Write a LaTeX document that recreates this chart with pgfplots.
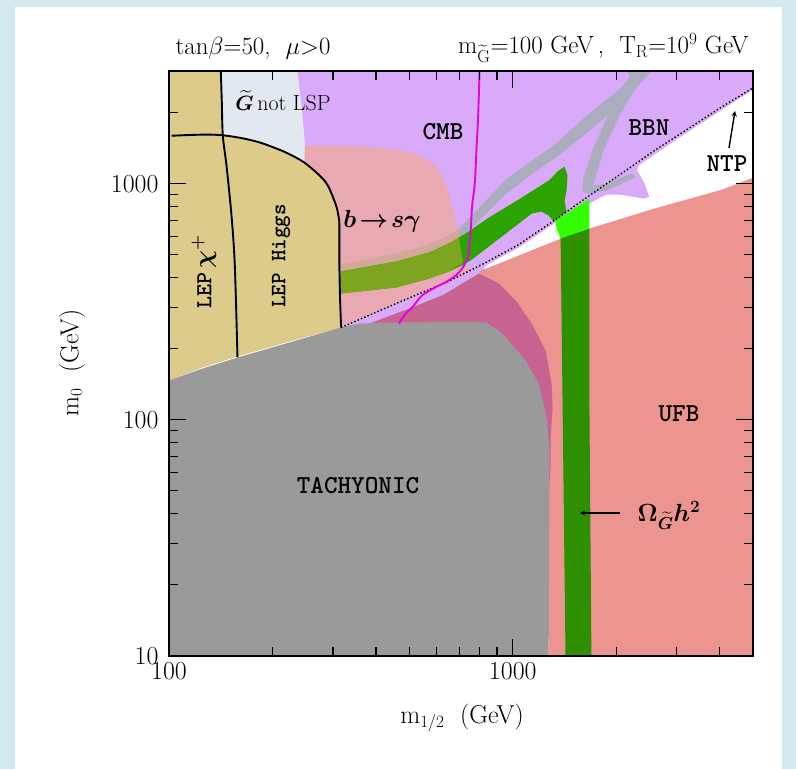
\documentclass[border=0pt]{standalone}
\usepackage{amsmath}
\usepackage{fontspec}
\usepackage{pgfplots}
\pgfplotsset{compat=1.18}
\definecolor{bgblue}{RGB}{210,234,239}
\definecolor{lav}{RGB}{217,170,250}
\definecolor{glsp}{RGB}{226,232,240}
\definecolor{bsg}{RGB}{232,169,179}
\definecolor{tanc}{RGB}{220,203,138}
\definecolor{gband}{RGB}{172,172,191}
\definecolor{beige}{RGB}{212,168,150}
\definecolor{gdark}{RGB}{44,163,0}
\definecolor{olive}{RGB}{126,165,32}
\definecolor{lime}{RGB}{51,255,0}
\definecolor{gcol}{RGB}{46,143,0}
\definecolor{salmon}{RGB}{236,149,144}
\definecolor{dpink}{RGB}{200,98,145}
\definecolor{tach}{RGB}{154,154,154}
\definecolor{mag}{RGB}{230,0,230}
\newcommand{\bsg}{{\boldmath$b\!\rightarrow\! s\gamma$}}
\newcommand{\omg}{{\boldmath$\Omega_{\widetilde{G}}h^2$}}
\newcommand{\gt}{{\boldmath$\widetilde{G}$}}
\newcommand{\chip}{{\boldmath$\chi^+$}}
\begin{document}
\begin{tikzpicture}
\fill[bgblue] (0,0) rectangle (796bp,769bp);
\fill[white] (15bp,0) rectangle (782bp,761.5bp);
\begin{axis}[at={(169bp,113bp)}, anchor=south west, scale only axis,
  width=584bp, height=585bp,
  xmode=log, ymode=log, xmin=100, xmax=5000, ymin=10, ymax=3000,
  xtick={100,1000}, xticklabels={100,1000},
  ytick={10,100,1000}, yticklabels={10,100,1000},
  minor xtick={200,300,400,500,600,700,800,900,2000,3000,4000},
  minor ytick={20,30,40,50,60,70,80,90,200,300,400,500,600,700,800,900,2000},
  tick align=inside, major tick length=17bp, minor tick length=9bp,
  tick style={black, line width=1.1bp},
  axis line style={line width=1.3bp},
  tick label style={font=\fontsize{26}{30}\selectfont},
  /pgf/number format/assume math mode=true,
  xticklabel style={yshift=-3bp}, yticklabel style={xshift=-7bp},
  axis on top]
% CMB / BBN lavender
\addplot[fill=lav, draw=none] coordinates {(224.3,3000)(5000,3000)(5000,2497)(4061,2055)(3237,1659)(2580,1326)(2318,1191)(2303,1135)(2413,1010)(2495,881.1)(2413,864.2)(2056,898.4)(1873,898.4)(1751,855.8)(1671,823.2)(1359,697.7)(1041,536.6)(835.1,450.2)(797,389)(467.3,239)(224.3,239)} -- cycle;
% G not LSP
\addplot[fill=glsp, draw=none] coordinates {(141.5,3000)(236.6,3000)(244.6,1939)(249.5,1379)(249.5,1135)(141.5,1135)} -- cycle;
% b -> s gamma
\addplot[fill=bsg, draw=none] coordinates {(247.9,1448)(328,1448)(446,1406)(509.6,1352)(559.4,1276)(598.1,1180)(622.5,1081)(643.8,952.5)(665.6,807.3)(697.4,620.9)(721,481.9)(745.5,428.8)(639.4,381.5)(458,310.9)(315.2,246.1)(247.9,246.1)} -- cycle;
% UFB
\addplot[fill=salmon, draw=none] coordinates {(797,424.6)(1041,496.2)(1359,580.0)(1671,645.5)(2580,784.1)(4061,943.2)(5000,1060)(5000,10)(1272,10)(1272,74.3)(910.7,320.2)} -- cycle;
% dark pink
\addplot[fill=dpink, draw=none] coordinates {(390.2,258.4)(509.6,299.1)(631,339.4)(797,416.4)(910.7,377.8)(1020,320.2)(1135,255.9)(1246,196.7)(1297,142.7)(1306,112.9)(1289,84.3)(1289,63.6)(1272,48.0)(1189,48.0)(408.9,120.9)(390.2,239.0)} -- cycle;
% grey band (long branch)
\addplot[fill=gband, draw=none] coordinates {(315.2,454.6)(458,505)(570.8,552)(652.4,603)(697.4,645)(760.6,735)(954.4,1040)(1189,1310)(1315,1450)(1638,1940)(2056,2520)(2260,3000)(2530,3000)(2112,2230)(1660,1660)(1332,1285)(1189,1150)(954.4,905)(760.6,650)(697.4,585.7)(652.4,557.9)(570.8,510.9)(458,468)(315.2,424.6)} -- cycle;
% grey band (right branch)
\addplot[fill=gband, draw=none] coordinates {(2169,3000)(2479,3000)(2350,2752)(2056,1977)(1835,1379)(1740,1060)(1705,980.7)(1873,1000)(2198,1102)(2273,1081)(2242,1050)(1873,934.1)(1660,907.2)(1595,925.0)(1606,1060)(1717,1420)(1923,2055)(2198,2752)} -- cycle;
% grey band over pink
\addplot[fill=beige, draw=none] coordinates {(315.2,454.6)(458,505)(570.8,552)(652.4,603)(697.4,645)(702,569)(652.4,557.9)(570.8,510.9)(458,468)(315.2,424.6)} -- cycle;
% green band
\addplot[fill=gdark, draw=none] coordinates {(315.2,424.6)(458,468)(570.8,510.9)(652.4,557.9)(721,608.9)(852,718.4)(1062,872.6)(1272,1030)(1359,1135)(1415,1180)(1443,1081)(1434,934.1)(1415,847.6)(1434,761.6)(1341,704.5)(1315,691.0)(1272,732.5)(1214,761.6)(1135,746.9)(954.4,614.9)(760.6,477.2)(721,454.6)(652.4,424.6)(570.8,396.7)(458,363.4)(315.2,342.7)} -- cycle;
% green band over pink
\addplot[fill=olive, draw=none] coordinates {(315.2,424.6)(458,468)(570.8,510.9)(652.4,557.9)(697.4,591.4)(716.2,463.5)(652.4,424.6)(570.8,396.7)(458,363.4)(315.2,342.7)} -- cycle;
% green column
\addplot[fill=gcol, draw=none] coordinates {(1378,591.4)(1671,645.5)(1671,120.9)(1694,10)(1424,10)(1396,120.9)} -- cycle;
\addplot[fill=lime, draw=none] coordinates {(1332,697.7)(1671,864.2)(1671,645.5)(1378,585.7)(1341,645.5)} -- cycle;
% LEP
\addplot[fill=tanc, draw=none] coordinates {(100,3000)(141.5,3000)(142.4,1612)(183.5,1491)(228.8,1313)(268.6,1113)(292.9,952.5)(306.3,807.3)(313.1,664.6)(313.1,450.2)(314.5,326.5)(317.3,246.1)(224.3,214.7)(158.5,185.6)(123,165.1)(100,146.9)} -- cycle;
% tachyonic
\addplot[fill=tach, draw=none] coordinates {(100,10)(100,146.9)(123,163.5)(158.5,183.8)(224.3,212.7)(316.7,246.1)(357.8,255.9)(467.3,258.4)(745.5,259.7)(835.1,258.4)(910.7,239.0)(954.4,223.3)(1091,178.5)(1189,142.7)(1255,102.5)(1280,74.3)(1276,28.1)(1272,10)} -- cycle;
% LEP chargino line
\addplot[black, line width=1.9bp, smooth] coordinates {(141.5,3000)(142.4,2244)(143.4,1596)(147.0,1191)(152.0,732.5)(155.4,450.2)(158.2,183.8)};
% LEP Higgs line
\addplot[black, line width=1.9bp, smooth] coordinates {(101.8,1596)(123,1612)(140.6,1607)(160.6,1565)(183.5,1495)(209.7,1392)(228.8,1313)(247.9,1227)(268.1,1116)(283.3,1030)(292.9,952.5)(306.3,807.3)(311.0,732.5)(313.1,664.6)(313.1,450.2)(314.5,326.5)(316.7,246.1)};
% NTP dotted line
\addplot[black, line width=1.4bp, dash pattern=on 1.4bp off 2.2bp] coordinates {(316.7,246.1)(458,310.9)(639.4,381.5)(835.1,463.5)(1041,552.5)(1332,704.5)(1638,872.6)(2029,1081)(2580,1379)(3237,1708)(4061,2117)(5000,2546)};
% magenta line
\addplot[mag, line width=1.9bp, smooth] coordinates {(800.7,3000)(793.3,1939)(784.8,1420)(776.0,1013)(762.1,807.3)(754.0,622.7)(742.0,496.2)(729.3,464.9)(712.9,437.2)(682.2,408.4)(638.2,382.6)(596.9,364.5)(544.7,336.1)(510.6,299.9)(488.7,282.0)(472.6,263.5)(467.3,255.9)};
\end{axis}
% titles
\node[font=\fontsize{25}{28}\selectfont, anchor=west] at (172bp,721bp) {tan$\beta$=50, \ $\mu{>}0$};
\node[font=\fontsize{25}{28}\selectfont, anchor=east] at (752bp,721bp) {m$_{\widetilde{\mathrm{G}}}$=100 GeV\,, \ T$_{\mathrm{R}}$=10$^{9}$ GeV};
% axis labels
\node[font=\fontsize{26}{30}\selectfont, rotate=90] at (72bp,406bp) {m$_0$ \ (GeV)};
\node[font=\fontsize{26}{30}\selectfont] at (462bp,51bp) {m$_{1/2}$ \ (GeV)};
% region labels
\node[font=\fontsize{22}{26}\selectfont] at (283bp,668bp) {\gt\,not LSP};
\node[font=\fontsize{26}{28}\selectfont\ttfamily\bfseries] at (443bp,637bp) {CMB};
\node[font=\fontsize{26}{28}\selectfont\ttfamily\bfseries] at (649bp,641bp) {BBN};
\node[font=\fontsize{26}{28}\selectfont\ttfamily\bfseries] at (727bp,605bp) {NTP};
\draw[-stealth, line width=1.4bp] (729bp,621bp) -- (735bp,658bp);
\node[font=\fontsize{23}{26}\selectfont\ttfamily\bfseries, rotate=90] at (204bp,497bp) {LEP\,\chip};
\node[font=\fontsize{22}{26}\selectfont\ttfamily\bfseries, rotate=90] at (281bp,513bp) {LEP Higgs};
\node[font=\fontsize{23}{26}\selectfont] at (382bp,548bp) {\bsg};
\node[font=\fontsize{26}{28}\selectfont\ttfamily\bfseries] at (679bp,355bp) {UFB};
\node[font=\fontsize{26}{28}\selectfont\ttfamily\bfseries] at (358bp,283bp) {TACHYONIC};
\node[font=\fontsize{24}{28}\selectfont] at (669bp,254bp) {\omg};
\draw[-stealth, line width=1.2bp] (620bp,256bp) -- (580bp,256bp);
\pgfresetboundingbox
\path[use as bounding box] (0,0) rectangle (796bp,769bp);
\end{tikzpicture}
\end{document}
